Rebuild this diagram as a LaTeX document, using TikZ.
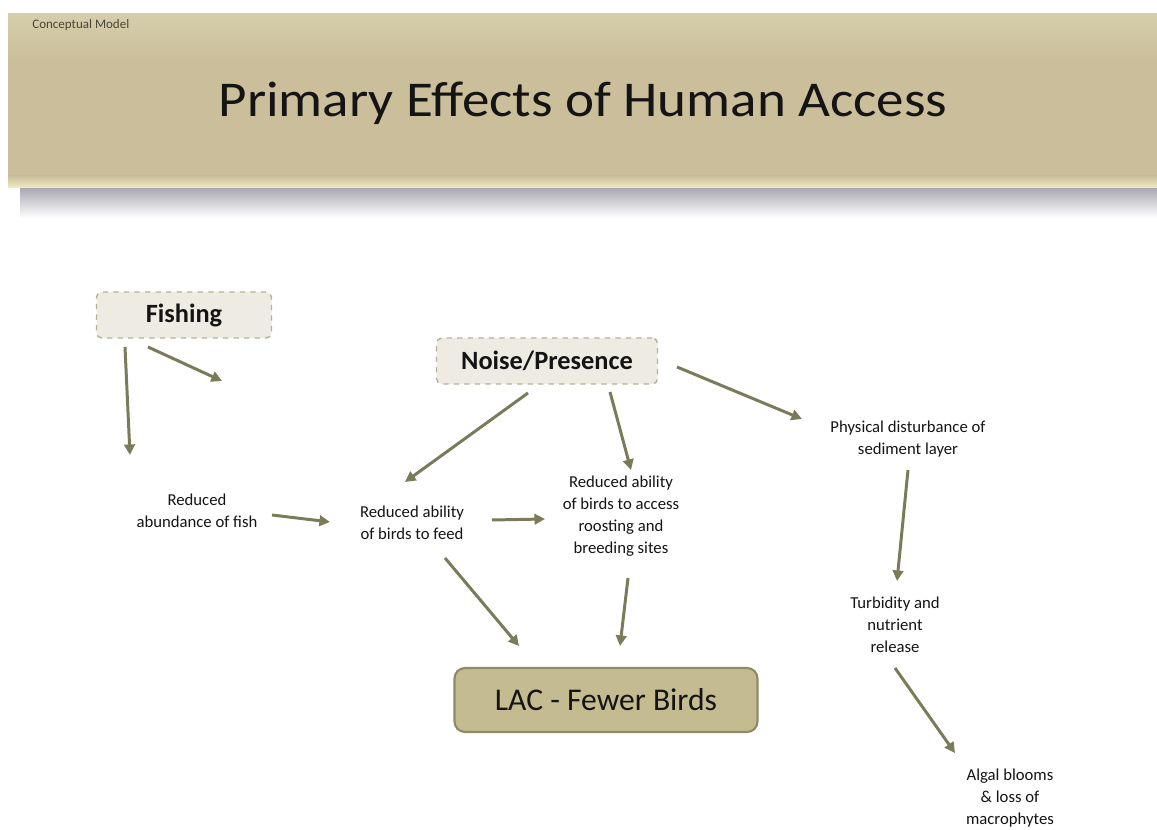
\documentclass[tikz,border=0pt]{standalone}
\usepackage{fontspec}
\setmainfont{Carlito}
\usetikzlibrary{arrows.meta,calc}
\definecolor{band}{HTML}{CABF9A}
\definecolor{bandtop}{HTML}{D6CDAB}
\definecolor{bandedge}{HTML}{F2ECC6}
\definecolor{shadowc}{HTML}{ADABB5}
\definecolor{boxfill}{HTML}{EEECE2}
\definecolor{boxline}{HTML}{B5B196}
\definecolor{lacfill}{HTML}{C4BC90}
\definecolor{lacline}{HTML}{8F8A66}
\definecolor{arrowc}{HTML}{7A7B58}
\definecolor{txt}{HTML}{141414}
\definecolor{subtxt}{HTML}{4A4535}
\tikzset{
  srcbox/.style={draw=boxline, dashed, line width=0.8pt, fill=boxfill, rounded corners=3pt, font=\fontsize{15}{17}\selectfont\bfseries, text=txt},
  effect/.style={align=center, font=\fontsize{9.5}{12.5}\selectfont, text=txt, inner sep=0pt},
  lacbox/.style={draw=lacline, line width=1.2pt, fill=lacfill, rounded corners=6pt, font=\fontsize{18}{20}\selectfont, text=txt},
  arr/.style={draw=arrowc, line width=1.7pt, -{Triangle[length=6pt,width=6pt]}}
}
\begin{document}
\begin{tikzpicture}[x=0.02cm,y=-0.02cm]
\useasboundingbox (0,0) rectangle (1157,830);
\fill[white] (0,0) rectangle (1157,830);
% header shadow
\shade[top color=shadowc, bottom color=white] (20,189) rectangle (1157,218);
% header band
\shade[top color=bandtop, bottom color=band] (8,14) rectangle (1157,60);
\fill[band] (8,59) rectangle (1157,178);
\shade[top color=band, bottom color=bandedge] (8,176) rectangle (1157,188);
\node[anchor=west, font=\fontsize{7.4}{9}\selectfont, text=subtxt, inner sep=0pt] (cm) at (32,25) {Conceptual Model};
\node[font=\fontsize{28.5}{31}\selectfont, text=txt] (title) at (583,103) {\scalebox{1.1}[1]{Primary Effects of Human Access}};

% nodes
\node[srcbox, minimum width=175*0.02cm, minimum height=46*0.02cm] (fishing) at (184,315) {Fishing};
\node[srcbox, minimum width=221*0.02cm, minimum height=46*0.02cm] (noise) at (547,361) {Noise/Presence};
\node[effect] (abund) at (197,511) {Reduced\\abundance of fish};
\node[effect] (feed) at (412,523) {Reduced ability\\of birds to feed};
\node[effect] (access) at (621,516) {Reduced ability\\of birds to access\\roosting and\\breeding sites};
\node[effect] (phys) at (908,439) {Physical disturbance of\\sediment layer};
\node[effect] (turb) at (895,625) {Turbidity and\\nutrient\\release};
\node[effect] (algal) at (1010,798) {Algal blooms\\\&{} loss of\\macrophytes};
\node[lacbox, minimum width=303*0.02cm, minimum height=64*0.02cm] (lac) at (606,700) {LAC - Fewer Birds};
\coordinate (fishend) at (222,381);

% connectors
\draw[arr] ($(fishing)+(-59,32)$) -- ($(abund)+(-67,-56)$);
\draw[arr] ($(fishing)+(-36,32)$) -- (fishend);
\draw[arr] ($(noise)+(-19,32)$) -- ($(feed)+(-7,-41)$);
\draw[arr] ($(noise)+(63,31)$) -- ($(access)+(10,-46)$);
\draw[arr] ($(noise)+(130,6)$) -- ($(phys)+(-106,-20)$);
\draw[arr] ($(abund)+(75,4)$) -- ($(feed)+(-82,-1)$);
\draw[arr] ($(feed)+(80,-3)$) -- ($(access)+(-76,3)$);
\draw[arr] ($(feed)+(33,35)$) -- ($(lac)+(-87,-54)$);
\draw[arr] ($(access)+(7,62)$) -- ($(lac)+(14,-54)$);
\draw[arr] ($(phys)+(0,31)$) -- ($(turb)+(2,-44)$);
\draw[arr] ($(turb)+(0,43)$) -- ($(algal)+(-55,-45)$);
\end{tikzpicture}
\end{document}
